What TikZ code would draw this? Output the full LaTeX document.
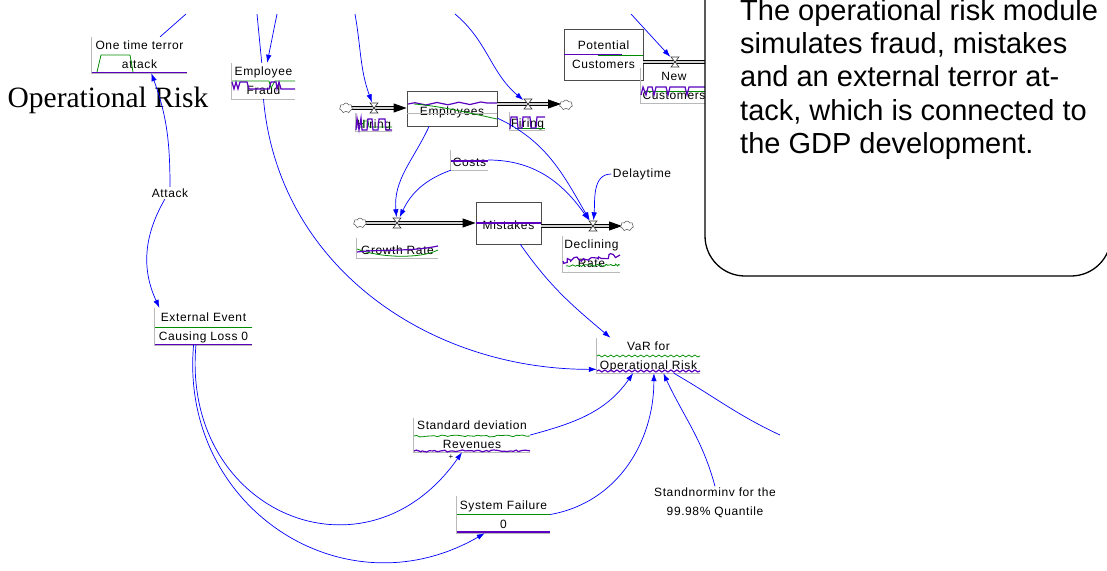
\documentclass[tikz,border=0pt]{standalone}
\usepackage{fontspec}
\setmainfont{Liberation Sans}
\newfontfamily\vsans[LetterSpace=5]{Liberation Sans}
\newfontfamily\titleserif{Liberation Serif}
\usetikzlibrary{arrows.meta, shapes.symbols, decorations.pathmorphing, calc}
\definecolor{vgreen}{RGB}{0,140,0}
\definecolor{vpurple}{RGB}{90,0,190}
\definecolor{vblue}{RGB}{0,0,255}
\newcommand{\vlabel}{\vsans\fontsize{12}{19}\selectfont}
\tikzset{
  % --- Bestaende und Fluesse ---------------------------------
  stock/.style={draw=black!70, fill=white, line width=0.8pt, align=center,
    font=\vlabel, inner sep=0pt, text depth=0pt,
    execute at begin node={\rule{0pt}{13pt}}},
  src/.style={cloud, cloud puffs=7, aspect=1.3, draw=black!70, fill=white,
    minimum width=13pt, minimum height=10pt, inner sep=0pt, line width=0.5pt},
  pipe/.style={draw=black, line width=0.8pt, double=gray!35,
    double distance=1.5pt, -{Triangle[length=13pt,width=9pt]}},
  pipen/.style={draw=black, line width=0.8pt, double=gray!35,
    double distance=1.5pt},
  valvebox/.style={minimum width=9pt, minimum height=11pt, inner sep=0pt},
  valve/.pic={\draw[black!80, fill=white, line width=0.6pt]
    (-4,-5) -- (4,-5) -- (-4,5) -- (4,5) -- cycle;},
  % --- Variablen mit Verlauf -------------------------------
  gvar/.style={align=center, font=\vlabel, inner sep=0pt, text depth=0pt,
    execute at begin node={\rule{0pt}{12pt}}},
  gaxis/.style={draw=gray!55, line width=0.8pt},
  plotg/.style={draw=vgreen, line width=0.8pt},
  plotb/.style={draw=vpurple, line width=1.2pt},
  lbl/.style={font=\vlabel, inner sep=1.5pt, align=center},
  ttl/.style={font=\titleserif\fontsize{29.5}{32}\selectfont, inner sep=0pt},
  % --- Wirkungspfeile --------------------------------------
  lnk/.style={draw=vblue, line width=0.7pt, -{Latex[length=8pt,width=5.5pt]}},
  lnkn/.style={draw=vblue, line width=0.7pt},
  % --- Kommentar -------------------------------------------
  note/.style={draw, line width=1.3pt, rounded corners=40pt, fill=white},
  notetxt/.style={font=\fontsize{29}{33.3}\selectfont, align=left,
    inner sep=0pt}
}
\pgfmathsetseed{7}

\begin{document}
\begin{tikzpicture}[x=1pt, y=-1pt]
  \useasboundingbox (0,0) rectangle (1107,570);
  \clip (0,0) rectangle (1107,570);

  % --- Titel ---------------------------------------------------
  \node[ttl] (title) at (108,100) {Operational Risk};

  % --- Bestaende -----------------------------------------------
  \node[stock, minimum width=90pt, minimum height=35pt] (emp) at (452,108.5) {Employees};
  \node[stock, minimum width=79pt, minimum height=51pt] (pot) at (603.5,54.5) {Potential\\Customers};
  \node[stock, minimum width=65pt, minimum height=42pt] (mist) at (508.5,223) {Mistakes};

  % --- Quellen, Senken, Ventile ---------------------------------
  \node[valvebox] (vhire) at (374,108) {};
  \node[valvebox] (vfire) at (528,104) {};
  \node[valvebox] (vnew) at (675,62) {};
  \node[valvebox] (vgrow) at (397,223) {};
  \node[valvebox] (vdecl) at (593,226) {};
  \coordinate (nend) at (712,62);

  \draw[pipe] (346,108) -- (emp.west |- vhire);
  \draw[pipe] (emp.east |- vfire) -- (561,104);
  \draw[pipen] (pot.east |- vnew) -- (nend);
  \draw[pipe] (360,223) -- (mist.west |- vgrow);
  \draw[pipe] (mist.east |- vdecl) -- (622,226);

  \node[src] (c1) at (346,108) {};
  \node[src] (c2) at (566,105) {};
  \node[src] (c3) at (360,223) {};
  \node[src] (c4) at (627,226) {};
  \foreach \v in {vhire,vfire,vnew,vgrow,vdecl}
    \pic at (\v) {valve};

  % --- Fluss-Beschriftungen ------------------------------------
  \node[gvar, minimum width=36pt, minimum height=18pt] (hirelbl) at (374,122) {Hiring};
  \node[gvar, minimum width=35pt, minimum height=18pt] (firelbl) at (527.5,121) {Firing};
  \node[gvar, minimum width=66pt, minimum height=35pt] (newc) at (674,85.5) {New\\Customers};
  \node[gvar, minimum width=81pt, minimum height=20pt] (growlbl) at (397.5,248) {Growth Rate};
  \node[gvar, minimum width=57pt, minimum height=36pt] (decllbl) at (591.5,254) {Declining\\Rate};

  % --- Hilfsgroessen ---------------------------------------------
  \node[gvar, minimum width=95pt, minimum height=36pt] (terror) at (139.5,55) {One time terror\\attack};
  \node[gvar, minimum width=63pt, minimum height=36pt] (fraud) at (263.5,81) {Employee\\Fraud};
  \node[gvar, minimum width=37pt, minimum height=20pt] (costs) at (469.5,160) {Costs};
  \node[gvar, minimum width=97pt, minimum height=37pt] (ext) at (203.5,326.5) {External Event\\Causing Loss 0};
  \node[gvar, minimum width=103pt, minimum height=35pt] (var) at (648.5,355.5) {VaR for\\Operational Risk};
  \node[gvar, minimum width=116pt, minimum height=34pt] (stdv) at (472,435) {Standard deviation\\Revenues};
  \node[gvar, minimum width=93pt, minimum height=37pt] (sysf) at (503.5,514.5) {System Failure\\0};
  \node[font=\vsans\fontsize{8}{8}\selectfont, inner sep=0pt] (plus) at (451,457) {+};

  \node[lbl] (attack) at (170,193) {Attack};
  \node[lbl] (delay) at (642,174) {Delaytime};
  \node[lbl] (normq) at (715,503) {Standnorminv for the\\99.98\% Quantile};

  % --- Achsen der Verlaeufe --------------------------------------
  \foreach \n in {terror,fraud,hirelbl,firelbl,newc,costs,growlbl,decllbl,ext,var,stdv,sysf}
    \draw[gaxis] (\n.north west) |- (\n.south east);
  \draw[gaxis] (emp.west |- 0,113) -- (emp.east |- 0,113);

  % --- Verlaeufe -------------------------------------------------
  \draw[plotg] (97,72) -- (101,55) -- (130,55) -- (133,72);
  \draw[plotb] (92,72.5) -- (187,72.5);
  \draw[plotg] (232,81) -- (269,81) -- (271,88) -- (275,81) -- (295,81);
  \draw[plotb] (232,82) -- (234,89) -- (236,82) -- (238,89) -- (240,82) -- (247,82)
    -- (249,89) -- (269,89) -- (271,82) -- (276,82) -- (277,89) -- (279,82)
    -- (281,89) -- (295,89);
  \draw[plotg] (358,127) -- (363,127) -- (364,121) -- (368,121) -- (369,127) -- (392,127);
  \draw[plotb] (356,130) -- (357,118) -- (359,130) -- (361,118) -- (362,130) -- (367,130)
    -- (368,119) -- (372,119) -- (373,130) -- (378,130) -- (379,119) -- (385,119)
    -- (386,130) -- (392,130);
  \draw[plotg] (515,128) -- (545,128);
  \draw[plotb] (510,129) -- (511,117) -- (517,117) -- (518,128) -- (522,128) -- (523,117)
    -- (530,117) -- (531,128) -- (536,128) -- (537,117) -- (545,117);
  \draw[plotg] (645,91) -- (705,91);
  \draw[plotb] (641,95) -- (643,87) -- (646,95) -- (648,87) -- (652,87) -- (654,95)
    -- (656,87) -- (666,87) -- (668,95) -- (670,87) -- (685,87) -- (687,95)
    -- (689,87) -- (705,87);
  \draw[plotb] (564,54.5) -- (622,54.5);
  \draw[plotg] (598,55) -- (643,55);
  \draw[plotb, decorate, decoration={snake, amplitude=1.2pt, segment length=22pt}]
    (408,104) -- (497,103);
  \draw[plotg] (414,104) .. controls (440,106) and (470,113) .. (497,119);
  \draw[plotb] (451,161) -- (488,161);
  \draw[plotb] (476,223) -- (541,223);
  \draw[plotg] (357,249) .. controls (380,258) and (420,259) .. (438,250);
  \draw[plotb] (357,252) .. controls (380,249) and (410,252) .. (438,246);
  \draw[plotg, decorate, decoration={random steps, segment length=1.5pt, amplitude=1pt}]
    (566,266) -- (620,265);
  \draw[plotb, decorate, decoration={random steps, segment length=2pt, amplitude=2.5pt}]
    (563,261) -- (620,255);
  \draw[plotg] (155,327) -- (252,327);
  \draw[plotb] (155,344.5) -- (252,344.5);
  \draw[plotg, decorate, decoration={snake, amplitude=1pt, segment length=6pt}]
    (597,356) -- (700,356);
  \draw[plotb, decorate, decoration={snake, amplitude=1pt, segment length=6pt}]
    (597,371) -- (700,371);
  \draw[plotg, decorate, decoration={random steps, segment length=3pt, amplitude=1pt}]
    (414,436) -- (530,436);
  \draw[plotb, decorate, decoration={random steps, segment length=3pt, amplitude=1pt}]
    (414,451) -- (530,451);
  \draw[plotg] (457,514) -- (550,514);
  \draw[plotb] (457,532) -- (550,532);

  % --- Wirkungspfeile ----------------------------------------------
  \coordinate (tA) at (186,14);
  \coordinate (tB) at (257,14);
  \coordinate (tC) at (277,14);
  \coordinate (tD) at (355,14);
  \coordinate (tE) at (455,14);
  \coordinate (tF) at (631,14);
  \coordinate (rA) at (780,435);

  \draw[lnkn] (terror) -- (tA);
  \draw[lnkn] (fraud) -- (tB);
  \draw[lnk] (tC) -- (fraud);
  \draw[lnk] (tD) to[out=-80, in=110] (vhire);
  \draw[lnk] (tE) to[out=-40, in=140] (vfire);
  \draw[lnk] (tF) -- (vnew);

  \draw[lnk] (emp.218) to[out=-115, in=95] (vgrow);
  \draw[lnk] (emp.-12) to[out=-25, in=120] (vdecl);
  \draw[lnk] (costs.south west) to[out=200, in=65] (vgrow);
  \draw[lnk] (costs.east) to[out=0, in=125] (vdecl);
  \draw[lnk] (delay.west) to[out=180, in=85] (vdecl);
  \draw[lnk] (mist.-61) to[out=-55, in=140] (var.155);
  \draw[lnk] (fraud.south) to[out=-85, in=180] (var.195);

  \draw[lnk] (attack.north) to[out=90, in=-70] (terror.-57);
  \draw[lnk] (attack.-130) to[out=-120, in=115] (ext.157);
  \draw[lnk] (ext.-112) to[out=-95, in=-125, looseness=1.5] (stdv.-120);
  \draw[lnk] (ext.-118) to[out=-95, in=-150, looseness=1.2] (sysf.-135);
  \draw[lnk] (stdv.east) to[out=15, in=-125] (var.-131);
  \draw[lnk] (sysf.east) to[out=10, in=-90] (var.-73);
  \draw[lnk] (normq.north) to[out=105, in=-65] (var.-50);
  \draw[lnkn] (var.-35) to[out=-30, in=155] (rA);

  % --- Kommentar ---------------------------------------------------
  \node[note, minimum width=406pt, minimum height=340pt] (note) at (908,106) {};
  \node[notetxt, anchor=north west] (notetext) at (740,-1)
    {The operational risk module\\simulates fraud, mistakes\\and an external terror at-\\tack, which is connected to\\the GDP development.};
\end{tikzpicture}
\end{document}
